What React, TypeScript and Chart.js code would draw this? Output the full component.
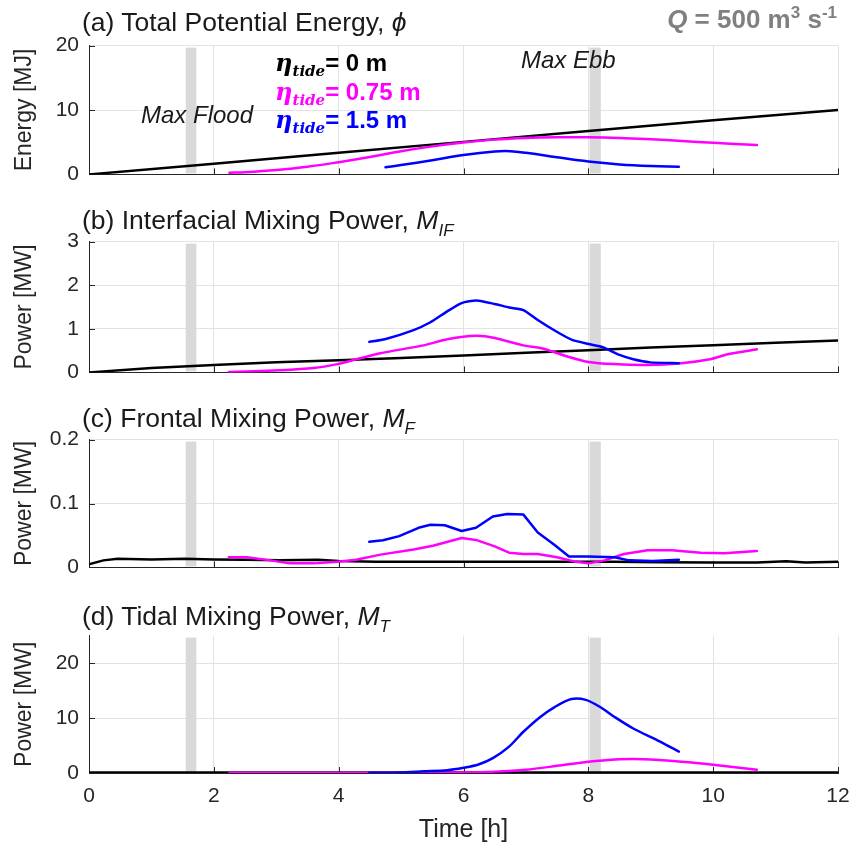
import React, { useEffect, useRef } from "react";
import { Chart, registerables } from "chart.js";
Chart.register(...registerables);

// ---------- data ----------
const timeTicks = [0, 2, 4, 6, 8, 10, 12];
const bandStart = [1.55, 8.02];
const bandEnd = [1.72, 8.2];

// (a) Total potential energy [MJ]
const aYTicks = [0, 10, 20];
const aBlackT = [0, 2, 4, 6, 8, 10, 12];
const aBlackV = [0, 1.65, 3.35, 5.05, 6.75, 8.4, 10];
const aMagT = [2.25, 2.5, 3.0, 3.5, 4.0, 4.5, 5.0, 5.5, 6.0, 6.5, 7.0, 7.5, 8.0, 8.5, 9.0, 9.5, 10.0, 10.7];
const aMagV = [0.25, 0.35, 0.7, 1.2, 1.9, 2.7, 3.6, 4.35, 4.95, 5.4, 5.65, 5.75, 5.75, 5.65, 5.45, 5.2, 4.9, 4.55];
const aBluT = [4.75, 5.0, 5.5, 6.0, 6.5, 6.75, 7.0, 7.5, 8.0, 8.5, 9.0, 9.45];
const aBluV = [1.1, 1.45, 2.2, 3.0, 3.55, 3.6, 3.35, 2.65, 2.0, 1.55, 1.3, 1.2];

// (b) Interfacial mixing power [MW]
const bYTicks = [0, 1, 2, 3];
const bBlackT = [0, 1, 2, 3, 4, 5, 6, 7, 8, 9, 10, 11, 12];
const bBlackV = [0, 0.1, 0.17, 0.23, 0.28, 0.33, 0.39, 0.45, 0.51, 0.57, 0.62, 0.68, 0.73];
const bMagT = [2.24, 3.06, 3.6, 3.98, 4.28, 4.67, 5.36, 5.74, 6.2, 6.5, 6.96, 7.27, 7.65, 8.0, 8.42, 8.95, 9.49, 9.95, 10.25, 10.7];
const bMagV = [0.01, 0.05, 0.1, 0.19, 0.3, 0.44, 0.62, 0.76, 0.84, 0.79, 0.62, 0.55, 0.37, 0.24, 0.19, 0.17, 0.21, 0.3, 0.42, 0.53];
const bBluT = [4.49, 4.74, 5.2, 5.47, 5.74, 5.97, 6.21, 6.5, 6.73, 6.96, 7.19, 7.46, 7.73, 8.0, 8.23, 8.5, 8.72, 8.99, 9.45];
const bBluV = [0.7, 0.76, 0.97, 1.15, 1.4, 1.59, 1.65, 1.57, 1.49, 1.43, 1.2, 0.96, 0.75, 0.65, 0.58, 0.4, 0.3, 0.23, 0.21];

// (c) Frontal mixing power [MW]
const cYTicks = [0, 0.1, 0.2];
const cBlackT = [0, 0.23, 0.46, 1.0, 1.53, 2.0, 2.5, 3.06, 3.67, 4.0, 4.6, 5.36, 6.0, 6.9, 7.65, 8.42, 9.18, 9.95, 10.7, 11.17, 11.48, 12];
const cBlackV = [0.005, 0.011, 0.0135, 0.0125, 0.0135, 0.0125, 0.012, 0.011, 0.012, 0.01, 0.0087, 0.0087, 0.0087, 0.0087, 0.009, 0.009, 0.008, 0.0077, 0.0075, 0.0097, 0.0077, 0.009];
const cMagT = [2.24, 2.53, 2.91, 3.21, 3.6, 3.98, 4.28, 4.67, 5.2, 5.51, 5.97, 6.2, 6.5, 6.73, 6.96, 7.19, 7.5, 7.8, 8.0, 8.26, 8.57, 8.95, 9.34, 9.8, 10.18, 10.7];
const cMagV = [0.016, 0.016, 0.011, 0.0063, 0.0063, 0.0087, 0.012, 0.02, 0.028, 0.034, 0.046, 0.043, 0.033, 0.023, 0.021, 0.021, 0.016, 0.0087, 0.0063, 0.011, 0.021, 0.027, 0.027, 0.023, 0.022, 0.0256];
const cBluT = [4.49, 4.71, 4.97, 5.28, 5.47, 5.7, 5.97, 6.2, 6.47, 6.7, 6.96, 7.19, 7.46, 7.69, 8.0, 8.42, 8.65, 9.03, 9.45];
const cBluV = [0.04, 0.0425, 0.049, 0.062, 0.0667, 0.066, 0.057, 0.062, 0.0797, 0.0836, 0.0826, 0.0546, 0.035, 0.017, 0.017, 0.016, 0.011, 0.01, 0.012];

// (d) Tidal mixing power [MW]
const dYTicks = [0, 10, 20];
const dBlackT = [0, 2, 4, 6, 8, 10, 12];
const dBlackV = [0, 0, 0, 0, 0, 0, 0];
const dMagT = [2.25, 3, 4, 5, 6, 6.5, 7, 7.5, 8, 8.5, 8.75, 9, 9.5, 10, 10.7];
const dMagV = [0.05, 0.05, 0.05, 0.05, 0.1, 0.25, 0.6, 1.3, 2.05, 2.5, 2.55, 2.45, 2.05, 1.5, 0.6];
const dBluT = [4.49, 4.97, 5.36, 5.74, 6.0, 6.24, 6.47, 6.73, 6.96, 7.23, 7.46, 7.73, 7.96, 8.19, 8.42, 8.72, 9.1, 9.45];
const dBluV = [0.05, 0.1, 0.3, 0.5, 0.95, 1.55, 2.7, 4.8, 7.5, 10.2, 12.0, 13.45, 13.3, 12.0, 10.2, 8.1, 6.0, 3.9];

// ---------- style ----------
const BLACK = "#000000";
const MAGENTA = "#ff00ff";
const BLUE = "#0000ff";
const AXIS = "#262626";
const GRID = "#e3e3e3";
const BAND = "#d9d9d9";
const SANS = "'Liberation Sans', Arial, sans-serif";

const pts = (t: number[], v: number[]) => t.map((x, i) => ({ x, y: v[i] }));

const decorPlugin = {
  id: "decor",
  beforeDatasetsDraw(chart: any) {
    const { ctx, chartArea, scales } = chart;
    const xs = scales.x;
    const ys = scales.y;
    ctx.save();
    ctx.fillStyle = BAND;
    for (let i = 0; i < bandStart.length; i++) {
      const x0 = xs.getPixelForValue(bandStart[i]);
      const x1 = xs.getPixelForValue(bandEnd[i]);
      ctx.fillRect(x0, chartArea.top + 2, x1 - x0, chartArea.bottom - chartArea.top - 3);
    }
    ctx.strokeStyle = AXIS;
    ctx.lineWidth = 1;
    ctx.beginPath();
    for (const t of xs.ticks) {
      const px = Math.round(xs.getPixelForValue(t.value)) + 0.5;
      ctx.moveTo(px, chartArea.bottom);
      ctx.lineTo(px, chartArea.bottom - 6);
    }
    for (const t of ys.ticks) {
      const py = Math.round(ys.getPixelForValue(t.value)) + 0.5;
      ctx.moveTo(chartArea.left, py);
      ctx.lineTo(chartArea.left + 6, py);
    }
    ctx.stroke();
    ctx.restore();
  },
};

type Panel = {
  top: number;
  plotH: number;
  yMax: number;
  yTicks: number[];
  yTitle: string;
  last: boolean;
  sets: { t: number[]; v: number[]; color: string; w: number; tension: number }[];
};

const panels: Panel[] = [
  {
    top: 43, plotH: 140, yMax: 20, yTicks: aYTicks, yTitle: "Energy [MJ]", last: false,
    sets: [
      { t: aBluT, v: aBluV, color: BLUE, w: 2.5, tension: 0.4 },
      { t: aMagT, v: aMagV, color: MAGENTA, w: 2.5, tension: 0.4 },
      { t: aBlackT, v: aBlackV, color: BLACK, w: 2.5, tension: 0 },
    ],
  },
  {
    top: 239, plotH: 142, yMax: 3, yTicks: bYTicks, yTitle: "Power [MW]", last: false,
    sets: [
      { t: bBluT, v: bBluV, color: BLUE, w: 2.5, tension: 0.2 },
      { t: bMagT, v: bMagV, color: MAGENTA, w: 2.5, tension: 0.2 },
      { t: bBlackT, v: bBlackV, color: BLACK, w: 2.5, tension: 0 },
    ],
  },
  {
    top: 437, plotH: 139, yMax: 0.2, yTicks: cYTicks, yTitle: "Power [MW]", last: false,
    sets: [
      { t: cBluT, v: cBluV, color: BLUE, w: 2.5, tension: 0 },
      { t: cMagT, v: cMagV, color: MAGENTA, w: 2.5, tension: 0 },
      { t: cBlackT, v: cBlackV, color: BLACK, w: 2.5, tension: 0 },
    ],
  },
  {
    top: 633, plotH: 140, yMax: 25, yTicks: dYTicks, yTitle: "Power [MW]", last: true,
    sets: [
      { t: dBluT, v: dBluV, color: BLUE, w: 2.5, tension: 0.3 },
      { t: dMagT, v: dMagV, color: MAGENTA, w: 2.5, tension: 0.3 },
      { t: dBlackT, v: dBlackV, color: BLACK, w: 3.5, tension: 0 },
    ],
  },
];

const PAD_TOP = 20;
const canvasHeight = (p: Panel) => PAD_TOP + p.plotH + (p.last ? 75 : 14);

function makeChart(canvas: HTMLCanvasElement, p: Panel) {
  return new Chart(canvas, {
    type: "line",
    data: {
      datasets: p.sets.map((s) => ({
        data: pts(s.t, s.v),
        borderColor: s.color,
        backgroundColor: s.color,
        borderWidth: s.w,
        tension: s.tension,
        pointRadius: 0,
        fill: false,
        borderCapStyle: "round",
        borderJoinStyle: "round",
      })),
    },
    options: {
      animation: false,
      responsive: false,
      events: [],
      layout: { padding: { top: PAD_TOP, right: 16, bottom: p.last ? 0 : 14, left: 0 } },
      plugins: { legend: { display: false }, tooltip: { enabled: false } },
      scales: {
        x: {
          type: "linear",
          min: 0,
          max: 12,
          afterBuildTicks: (s: any) => {
            s.ticks = timeTicks.map((v) => ({ value: v }));
          },
          afterFit: (s: any) => {
            s.height = p.last ? 75 : 0;
            s.paddingLeft = 0;
            s.paddingRight = 0;
          },
          ticks: {
            display: p.last,
            padding: 11,
            maxRotation: 0,
            color: AXIS,
            font: { family: SANS, size: 21 },
            callback: (v: any) => String(v),
          },
          grid: { color: GRID, drawTicks: false, lineWidth: 1 },
          border: { color: AXIS, width: 1 },
          title: {
            display: p.last,
            text: "Time [h]",
            color: AXIS,
            font: { family: SANS, size: 25 },
            padding: { top: 0, bottom: 3 },
          },
        },
        y: {
          type: "linear",
          min: 0,
          max: p.yMax,
          afterBuildTicks: (s: any) => {
            s.ticks = p.yTicks.map((v) => ({ value: v }));
          },
          afterFit: (s: any) => {
            s.width = 89;
          },
          ticks: {
            padding: 10,
            color: AXIS,
            font: { family: SANS, size: 21 },
            callback: (v: any) => String(v),
          },
          grid: { color: GRID, drawTicks: false, lineWidth: 1 },
          border: { color: AXIS, width: 1 },
          title: {
            display: true,
            text: p.yTitle,
            color: AXIS,
            font: { family: SANS, size: 23 },
            padding: { top: 11, bottom: 0 },
          },
        },
      },
    } as any,
    plugins: [decorPlugin],
  });
}

const txt = (
  left: number | null,
  cy: number,
  extra: React.CSSProperties,
  children: React.ReactNode,
  right?: number
) => (
  <div
    style={{
      position: "absolute",
      left: left === null ? undefined : left,
      right: right,
      top: cy,
      transform: "translateY(-50%)",
      whiteSpace: "nowrap",
      lineHeight: 1,
      fontFamily: SANS,
      color: "#1a1a1a",
      ...extra,
    }}
  >
    {children}
  </div>
);

const eta = (color: string, rest: string) => (
  <span style={{ color }}>
    <span style={{ fontFamily: "'DejaVu Serif', serif", fontStyle: "italic", fontWeight: 700, fontSize: 24 }}>η</span>
    <span
      style={{
        fontFamily: "'DejaVu Serif', serif",
        fontStyle: "italic",
        fontWeight: 700,
        fontSize: 15,
        position: "relative",
        top: 5,
      }}
    >
      tide
    </span>
    <span style={{ fontWeight: 700, fontSize: 24 }}>{rest}</span>
  </span>
);

export default function App() {
  const refs = useRef<(HTMLCanvasElement | null)[]>([]);
  useEffect(() => {
    const charts = panels.map((p, i) => makeChart(refs.current[i] as HTMLCanvasElement, p));
    return () => charts.forEach((c) => c.destroy());
  }, []);

  const titleStyle: React.CSSProperties = { fontSize: 26.5 };
  return (
    <div style={{ position: "absolute", left: 0, top: 0, width: 854, height: 848, background: "#fff", overflow: "hidden" }}>
      {panels.map((p, i) => (
        <canvas
          key={i}
          ref={(el) => {
            refs.current[i] = el;
          }}
          width={854}
          height={canvasHeight(p)}
          style={{ position: "absolute", left: 0, top: p.top - PAD_TOP, width: 854, height: canvasHeight(p) }}
        />
      ))}
      {txt(82, 22, titleStyle, <>(a) Total Potential Energy, <i>ϕ</i></>)}
      {txt(82, 223, titleStyle, <>(b) Interfacial Mixing Power, <i>M<sub style={{ fontSize: 17 }}>IF</sub></i></>)}
      {txt(82, 421, titleStyle, <>(c) Frontal Mixing Power, <i>M<sub style={{ fontSize: 17 }}>F</sub></i></>)}
      {txt(82, 619, titleStyle, <>(d) Tidal Mixing Power, <i>M<sub style={{ fontSize: 17 }}>T</sub></i></>)}
      {txt(
        null,
        18,
        { fontSize: 26, fontWeight: 700, color: "#808080" },
        <>
          <i>Q</i> = 500 m<sup style={{ fontSize: 17 }}>3</sup> s<sup style={{ fontSize: 17 }}>-1</sup>
        </>,
        17
      )}
      {txt(275, 63, {}, eta(BLACK, "= 0 m"))}
      {txt(275, 92, {}, eta(MAGENTA, "= 0.75 m"))}
      {txt(275, 120, {}, eta(BLUE, "= 1.5 m"))}
      {txt(141, 115, { fontSize: 24, fontStyle: "italic" }, "Max Flood")}
      {txt(521, 60, { fontSize: 24, fontStyle: "italic" }, "Max Ebb")}
    </div>
  );
}
